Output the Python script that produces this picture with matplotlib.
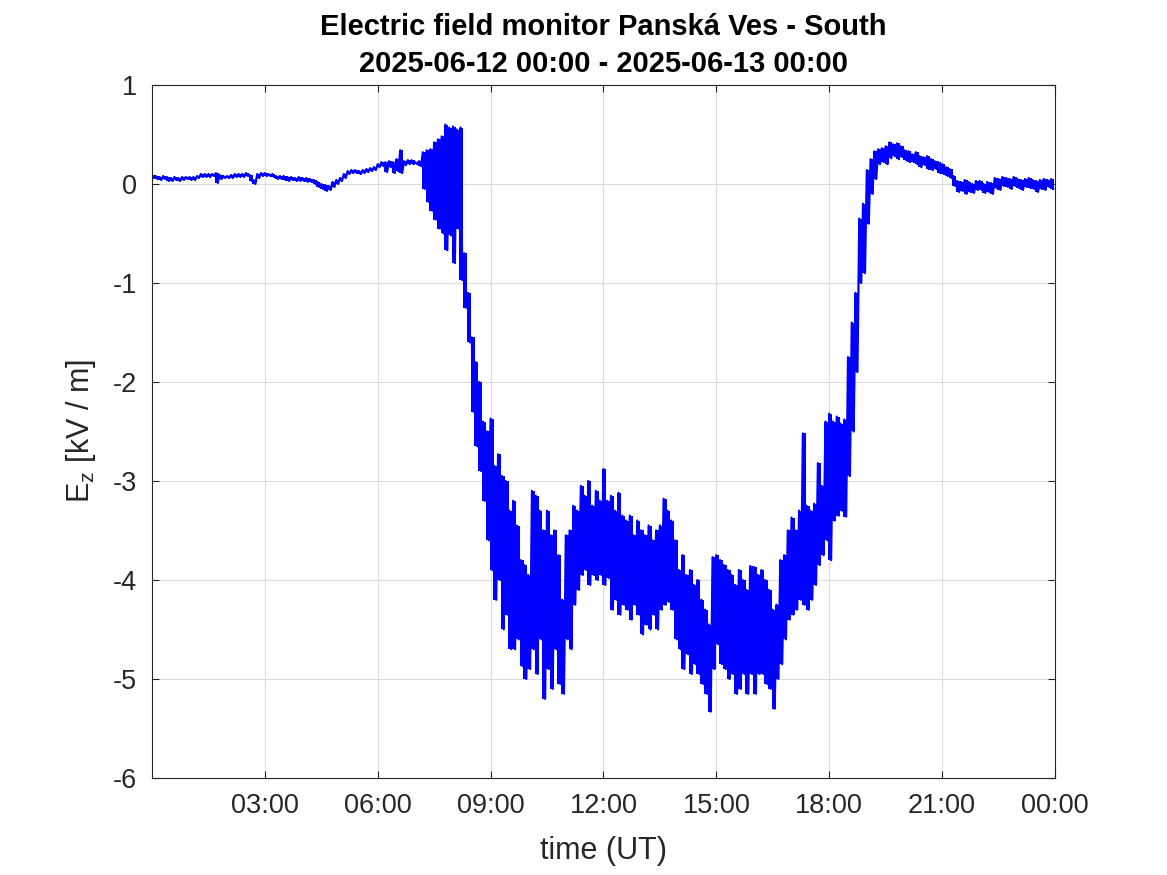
import numpy as np
import matplotlib
matplotlib.use("Agg")
import matplotlib.pyplot as plt

# electric field readings, hi/lo extremes per 6-minute interval [kV/m]
ez_hi = [
    0.09, 0.08, 0.07, 0.08, 0.07, 0.06, 0.07, 0.06, 0.07, 0.07,
    0.07, 0.07, 0.08, 0.10, 0.10, 0.10, 0.10, 0.11, 0.09, 0.08,
    0.08, 0.09, 0.10, 0.10, 0.10, 0.11, 0.09, 0.04, 0.10, 0.11,
    0.11, 0.10, 0.10, 0.08, 0.08, 0.08, 0.07, 0.07, 0.06, 0.07,
    0.06, 0.06, 0.05, 0.04, 0.02, 0.00, -0.01, -0.02, 0.02, 0.04,
    0.06, 0.10, 0.13, 0.14, 0.14, 0.13, 0.14, 0.15, 0.16, 0.17,
    0.20, 0.22, 0.22, 0.23, 0.22, 0.25, 0.34, 0.23, 0.24, 0.24,
    0.22, 0.23, 0.32, 0.34, 0.35, 0.42, 0.45, 0.48, 0.60, 0.57,
    0.58, 0.55, 0.57, -0.70, -1.10, -1.55, -1.80, -2.00, -2.40, -2.50,
    -2.37, -2.85, -2.73, -2.95, -3.00, -3.30, -3.20, -3.45, -3.80, -3.85,
    -3.95, -3.10, -3.15, -3.30, -3.50, -3.30, -3.55, -3.50, -3.75, -4.20,
    -3.55, -3.50, -3.25, -3.30, -3.05, -3.15, -3.00, -3.25, -3.10, -3.20,
    -2.88, -3.20, -3.15, -3.30, -3.12, -3.35, -3.40, -3.35, -3.55, -3.40,
    -3.50, -3.55, -3.45, -3.60, -3.50, -3.45, -3.18, -3.30, -3.40, -3.60,
    -3.90, -3.75, -3.95, -3.90, -4.05, -4.00, -4.20, -4.30, -4.45, -3.77,
    -3.75, -3.80, -3.85, -3.90, -3.95, -4.05, -3.90, -4.00, -4.10, -3.86,
    -3.87, -3.95, -3.90, -4.00, -4.10, -4.30, -4.25, -3.80, -3.75, -3.50,
    -3.37, -3.50, -3.30, -2.52, -3.25, -3.30, -3.23, -2.82, -3.05, -2.40,
    -2.32, -2.40, -2.35, -2.42, -2.38, -1.75, -1.40, -1.10, -0.35, -0.20,
    0.14, 0.25, 0.33, 0.35, 0.36, 0.38, 0.42, 0.40, 0.41, 0.38,
    0.34, 0.33, 0.30, 0.32, 0.28, 0.27, 0.28, 0.25, 0.23, 0.22,
    0.20, 0.17, 0.15, 0.08, 0.03, 0.02, 0.04, 0.02, 0.00, 0.03,
    0.03, 0.00, 0.02, 0.01, 0.06, 0.05, 0.07, 0.06, 0.05, 0.07,
    0.05, 0.04, 0.05, 0.06, 0.04, 0.03, 0.04, 0.05, 0.04, 0.05,
]
ez_lo = [
    0.06, 0.05, 0.04, 0.05, 0.03, 0.03, 0.04, 0.03, 0.04, 0.05,
    0.04, 0.04, 0.06, 0.07, 0.07, 0.07, 0.08, 0.01, 0.05, 0.06,
    0.06, 0.06, 0.07, 0.07, 0.07, 0.08, 0.03, 0.00, 0.06, 0.08,
    0.08, 0.08, 0.07, 0.05, 0.05, 0.04, 0.03, 0.04, 0.03, 0.03,
    0.03, 0.02, 0.02, 0.00, -0.03, -0.05, -0.07, -0.06, -0.03, 0.00,
    0.03, 0.06, 0.10, 0.11, 0.11, 0.10, 0.11, 0.12, 0.13, 0.14,
    0.17, 0.18, 0.12, 0.17, 0.11, 0.13, 0.11, 0.19, 0.20, 0.20,
    0.20, 0.18, -0.05, -0.18, -0.27, -0.36, -0.45, -0.50, -0.67, -0.52,
    -0.80, -0.45, -0.97, -1.25, -1.60, -2.30, -2.65, -2.90, -3.20, -3.60,
    -3.90, -4.20, -4.00, -4.50, -4.35, -4.70, -4.70, -4.60, -4.87, -5.00,
    -4.90, -4.70, -4.95, -4.60, -5.20, -4.90, -5.10, -4.70, -5.05, -5.15,
    -4.60, -4.70, -4.25, -4.10, -3.95, -3.90, -4.05, -3.95, -4.00, -3.95,
    -4.05, -3.98, -4.30, -4.20, -4.35, -4.25, -4.30, -4.40, -4.25, -4.35,
    -4.55, -4.45, -4.50, -4.35, -4.50, -4.30, -4.25, -4.22, -4.30, -4.60,
    -4.70, -4.90, -4.75, -4.95, -4.85, -4.95, -5.05, -5.15, -5.33, -4.90,
    -4.65, -4.85, -4.90, -5.00, -4.95, -5.15, -5.10, -4.95, -5.15, -4.95,
    -5.15, -4.95, -4.95, -5.05, -5.10, -5.30, -5.00, -4.85, -4.60, -4.40,
    -4.35, -4.30, -4.20, -4.25, -4.30, -4.20, -4.05, -3.85, -3.75, -3.60,
    -3.80, -3.40, -3.35, -3.30, -3.36, -2.95, -2.50, -1.90, -1.00, -0.90,
    -0.40, -0.10, 0.05, 0.20, 0.22, 0.20, 0.26, 0.28, 0.25, 0.27,
    0.24, 0.22, 0.22, 0.20, 0.17, 0.19, 0.15, 0.14, 0.15, 0.11,
    0.10, 0.08, 0.06, -0.02, -0.08, -0.07, -0.10, -0.08, -0.09, -0.06,
    -0.06, -0.09, -0.08, -0.10, -0.04, -0.06, -0.02, -0.03, -0.05, -0.02,
    -0.04, -0.06, -0.03, -0.04, -0.05, -0.08, -0.05, -0.06, -0.03, -0.05,
]
xtick_hours = [3, 6, 9, 12, 15, 18, 21, 24]
xtick_labels = ["03:00", "06:00", "09:00", "12:00", "15:00", "18:00", "21:00", "00:00"]

# interleave the extremes onto one time axis (hours since 00:00 UT)
t0 = np.arange(len(ez_hi)) * 0.1
t = np.column_stack([t0, t0 + 0.05]).ravel()
ez = np.column_stack([ez_hi, ez_lo]).ravel()

plt.rcParams["font.family"] = ["Liberation Sans", "DejaVu Sans"]
plt.rcParams["axes.unicode_minus"] = False
txt = "#262626"
blue = "#0000ff"

fig = plt.figure(figsize=(11.67, 8.75), dpi=100)
ax = fig.add_axes([0.1302, 0.1109, 0.7738, 0.792])
# min/max span of each interval, as dense sampled data looks
ax.vlines(t0 + 0.025, ez_lo, ez_hi, color=blue, linewidth=2.9)
ax.plot(t, ez, color=blue, linewidth=1.6)

ax.set_xlim(0, 24)
ax.set_ylim(-6, 1)
ax.set_xticks(xtick_hours)
ax.set_xticklabels(xtick_labels)
ax.set_yticks(range(-6, 2))
ax.grid(True, color="#dcdcdc", linewidth=0.8)
ax.tick_params(direction="in", top=True, right=True, length=5,
               labelsize=19.5, colors=txt, pad=11)
for s in ax.spines.values():
    s.set_color(txt)
    s.set_linewidth(0.8)

ax.set_xlabel("time (UT)", fontsize=22, color=txt, labelpad=12)
ax.set_ylabel(r"E$_\mathregular{z}$ [kV / m]", fontsize=22, color=txt, labelpad=10)
ax.set_title("Electric field monitor Panská Ves - South\n2025-06-12 00:00 - 2025-06-13 00:00",
             fontsize=21, fontweight="bold", color="black", pad=9, linespacing=1.44)

fig.savefig("out.png", dpi=100)
